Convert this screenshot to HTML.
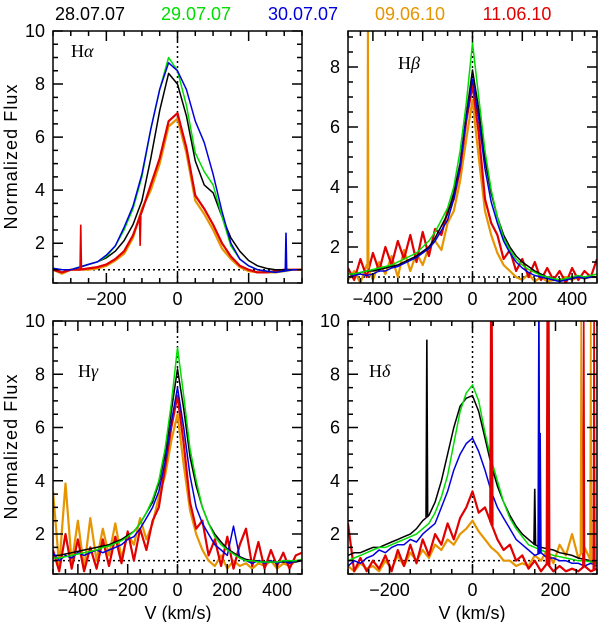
<!DOCTYPE html>
<html><head><meta charset="utf-8"><style>
html,body{margin:0;padding:0;background:#fff;}
svg{display:block;font-family:"Liberation Sans",sans-serif;}
</style></head><body>
<svg id="fig" width="600" height="622" viewBox="0 0 600 622" xmlns="http://www.w3.org/2000/svg">
<g font-size="18" text-anchor="middle">
<text x="90" y="20" fill="#000">28.07.07</text>
<text x="196" y="20" fill="#00dd00">29.07.07</text>
<text x="303" y="20" fill="#0000dd">30.07.07</text>
<text x="410" y="20" fill="#e69500">09.06.10</text>
<text x="517" y="20" fill="#e00000">11.06.10</text>
</g>
<text transform="translate(17,157) rotate(-90)" font-size="18" text-anchor="middle" textLength="145">Normalized Flux</text>
<text transform="translate(17,447) rotate(-90)" font-size="18" text-anchor="middle" textLength="145">Normalized Flux</text>
<text x="178" y="619" font-size="18" text-anchor="middle">V (km/s)</text>
<text x="472" y="619" font-size="18" text-anchor="middle">V (km/s)</text>
</svg>
<script>
// ---- H-alpha data ----
const haV = [-350,-325,-300,-275,-250,-225,-200,-175,-150,-125,-100,-75,-50,-25,0,25,50,75,100,125,150,175,200,225,250,275,300,325,350];
const haBlack = [1.05,1.0,1.0,1.1,1.2,1.3,1.45,1.7,2.1,2.7,3.6,5.2,7.0,8.4,8.0,6.8,5.1,4.2,3.9,3.0,2.2,1.7,1.35,1.15,1.05,1.0,1.0,1.0,1.0];
const haGreen = [1.05,1.0,1.0,1.1,1.2,1.3,1.5,1.9,2.5,3.3,4.5,6.3,7.8,9.0,8.5,7.2,5.4,4.7,4.2,3.0,1.9,1.4,1.15,1.0,0.95,0.9,0.95,1.0,1.0];
const haBlue = [1.05,1.0,1.0,1.1,1.2,1.3,1.55,1.9,2.6,3.4,4.6,6.3,7.8,8.8,8.5,7.8,6.6,5.8,4.6,3.2,2.0,1.4,1.15,1.0,0.95,0.9,0.95,1.0,1.0];
const haRed = [1.0,0.9,1.0,1.0,1.05,1.1,1.2,1.4,1.7,2.3,3.2,4.2,5.2,6.6,6.9,5.6,3.8,3.3,2.7,2.0,1.5,1.15,1.0,0.9,0.9,0.95,1.0,1.0,1.0];
const haOrange = [1.0,0.85,1.0,1.0,1.0,1.05,1.15,1.35,1.6,2.2,3.3,4.0,5.0,6.4,6.7,5.4,3.6,3.1,2.5,1.8,1.4,1.1,0.95,0.9,0.9,0.9,0.95,1.0,1.0];
// ---- H-beta data ----
const hbV = [-500,-475,-450,-425,-400,-375,-350,-325,-300,-275,-250,-225,-200,-175,-150,-125,-100,-75,-50,-25,0,25,50,75,100,125,150,175,200,225,250,275,300,325,350,375,400,425,450,475,500];
const hbBlack = [1.1,1.1,1.15,1.2,1.2,1.25,1.3,1.35,1.4,1.5,1.6,1.7,1.85,2.0,2.3,2.7,3.1,3.8,4.8,6.4,7.9,6.6,4.9,3.8,3.0,2.4,2.0,1.7,1.5,1.35,1.2,1.1,1.0,0.95,0.9,0.9,0.95,1.0,1.0,1.0,1.0];
const hbGreen = [1.1,1.1,1.15,1.2,1.25,1.3,1.35,1.4,1.5,1.6,1.7,1.8,2.0,2.2,2.5,2.9,3.3,4.0,5.2,6.8,8.8,7.0,5.2,3.9,3.0,2.3,1.9,1.6,1.4,1.25,1.15,1.05,1.0,0.95,0.9,0.95,1.0,1.05,1.0,1.05,1.1];
const hbBlue = [1.0,1.05,1.1,1.05,1.1,1.2,1.2,1.3,1.35,1.45,1.55,1.65,1.8,1.95,2.2,2.55,2.9,3.6,4.7,6.3,7.6,6.3,4.6,3.5,2.8,2.2,1.8,1.5,1.3,1.15,1.05,1.0,0.95,0.9,0.85,0.9,0.95,1.0,0.95,1.0,1.0];
const hbRed = [1.3,0.9,1.6,1.0,1.8,1.2,2.0,1.4,2.2,1.6,2.4,1.5,2.5,1.7,2.6,2.4,3.2,3.6,4.6,6.2,7.4,5.8,3.6,2.8,2.4,1.6,1.9,1.2,1.6,1.0,1.5,0.9,1.3,0.9,1.2,0.8,1.3,0.9,1.2,1.0,1.6];
const hbOrange = [0.9,1.2,0.8,1.4,0.9,1.5,1.1,1.7,1.0,1.9,1.2,1.8,1.4,2.0,2.2,1.9,2.8,3.2,4.2,5.6,6.9,5.0,3.2,2.4,1.8,1.4,1.2,1.0,0.9,1.1,0.85,1.0,0.85,0.9,0.9,1.0,0.9,1.0,0.95,1.0,1.0];
// ---- H-gamma data ----
const hgV = hbV;
const hgBlack = [1.2,1.2,1.25,1.3,1.35,1.4,1.45,1.5,1.55,1.6,1.7,1.8,1.95,2.1,2.4,2.8,3.2,3.9,5.0,6.6,8.2,6.7,4.9,3.8,3.0,2.4,2.0,1.7,1.45,1.3,1.15,1.05,1.0,1.0,0.95,0.95,0.95,0.95,0.95,0.95,1.0];
const hgGreen = [1.1,1.1,1.15,1.2,1.25,1.3,1.35,1.4,1.5,1.55,1.65,1.75,1.9,2.1,2.4,2.8,3.3,4.0,5.2,6.9,9.0,7.2,5.2,4.0,3.0,2.4,1.9,1.6,1.4,1.25,1.1,1.0,1.0,0.95,0.95,0.95,0.95,1.0,1.0,1.0,1.05];
const hgBlue = [1.3,1.0,1.2,1.1,1.3,1.2,1.3,1.4,1.3,1.4,1.5,1.6,1.8,1.9,2.2,2.6,3.0,3.6,4.7,6.2,7.5,6.0,4.2,3.0,2.4,2.0,1.6,1.4,1.2,2.3,1.1,1.0,0.9,1.0,0.9,1.0,0.9,1.0,0.9,1.0,1.0];
const hgRed = [1.4,0.6,2.0,0.7,1.8,0.6,1.5,0.7,1.8,0.8,1.9,0.9,2.1,1.0,2.2,1.4,2.5,3.0,4.5,6.0,7.2,5.4,3.2,2.2,2.5,1.2,1.8,0.8,1.9,0.7,1.6,2.2,0.8,1.7,0.7,1.4,0.8,1.3,0.7,1.2,1.3];
const hgOrange = [3.6,0.8,3.9,0.9,2.5,0.7,2.6,1.0,2.2,1.2,2.4,1.1,2.0,1.6,2.6,1.8,2.4,3.4,4.2,5.5,6.5,4.6,2.9,2.0,1.4,1.0,0.8,1.2,0.7,1.0,0.8,0.9,0.7,0.9,0.8,1.0,0.7,0.9,0.8,1.0,1.0];
// ---- H-delta data ----
const hdV = [-300,-285,-270,-255,-240,-225,-210,-195,-180,-165,-150,-135,-120,-105,-90,-75,-60,-45,-30,-15,0,15,30,45,60,75,90,105,120,135,150,165,180,195,210,225,240,255,270,285,300];
const hdBlack = [1.2,1.3,1.3,1.4,1.5,1.5,1.6,1.7,1.8,1.9,2.0,2.2,2.5,2.7,3.2,4.0,5.0,6.0,6.8,7.1,7.2,6.6,5.6,4.6,3.8,3.2,2.7,2.3,2.0,1.8,1.6,1.5,1.45,1.4,1.3,1.25,1.2,1.1,1.05,1.0,1.0];
const hdGreen = [1.0,1.1,1.2,1.3,1.4,1.5,1.5,1.6,1.7,1.8,1.9,2.0,2.2,2.4,2.8,3.4,4.2,5.4,6.6,7.3,7.6,7.0,5.8,4.8,4.0,3.2,2.6,2.2,1.9,1.6,1.5,1.4,1.3,1.2,1.15,1.1,1.05,1.0,1.0,0.95,0.9];
const hdBlue = [0.8,1.0,0.9,1.1,1.2,1.4,1.3,1.5,1.6,1.6,1.8,1.7,2.0,2.2,2.4,3.0,3.6,4.4,5.0,5.4,5.6,5.1,4.4,3.6,3.0,2.6,2.2,1.8,1.6,1.4,1.2,1.3,1.1,1.1,1.0,1.0,0.9,0.9,0.8,0.9,0.8];
const hdRed = [2.4,0.6,1.1,0.6,1.0,0.7,1.2,0.6,1.4,0.8,1.6,0.9,1.8,1.2,2.0,1.6,2.4,1.8,2.6,3.0,3.6,2.8,3.0,2.4,1.8,1.4,1.6,1.0,1.2,0.7,1.0,0.6,0.9,0.6,0.8,0.6,0.7,0.6,0.8,0.6,0.7];
const hdOrange = [0.8,0.6,0.9,0.7,0.8,0.6,1.0,0.7,1.2,0.8,1.3,1.0,1.4,1.1,1.6,1.4,1.8,1.6,2.0,2.2,2.5,2.1,1.8,1.5,1.3,1.0,1.0,0.8,0.9,0.8,1.2,1.0,1.4,0.9,1.6,1.2,2.0,1.1,1.5,1.0,0.9];
// ---- narrow spikes: velocity and peak flux ----
const haRedSpikeV = [-272,-105]; const haRedSpikeF = [2.7,1.9];
const haBlueSpikeV = [305]; const haBlueSpikeF = [2.4];
const hbOrangeSpikeV = [-421,-419]; const hbOrangeSpikeF = [9.5,9.5];
const hdBlackSpikeV = [-110,150]; const hdBlackSpikeF = [9.3,3.7];
const hdRedSpikeV = [44,47,180,184,268,293]; const hdRedSpikeF = [10.5,10.5,10.5,10.5,10.5,10.5];
const hdBlueSpikeV = [160,163]; const hdBlueSpikeF = [10.5,5.8];
const hdOrangeSpikeV = [262,285]; const hdOrangeSpikeF = [10.5,10.5];

const COL = {black:'#000',green:'#00dd00',blue:'#0000dd',orange:'#e69500',red:'#e00000'};
const NS = 'http://www.w3.org/2000/svg';
const svg = document.getElementById('fig');

const panels = [
 {id:'h-alpha', label:'H', greek:'α', lx:71, ly:57, x0:53, x1:302, y0:31, y1:283, xmin:-350, xmax:350, ymin:0.5, ymax:10, xl:[-200,0,200], yl:[2,4,6,8,10], xminor:50,
  v:haV, series:[['orange',haOrange],['red',haRed],['black',haBlack],['green',haGreen],['blue',haBlue]],
  spikes:[['red',haRedSpikeV,haRedSpikeF],['blue',haBlueSpikeV,haBlueSpikeF]]},
 {id:'h-beta', label:'H', greek:'β', lx:398, ly:69, x0:348, x1:597, y0:31, y1:283, xmin:-500, xmax:500, ymin:0.8, ymax:9.2, xl:[-400,-200,0,200,400], yl:[2,4,6,8], xminor:50,
  v:hbV, series:[['orange',hbOrange],['red',hbRed],['black',hbBlack],['green',hbGreen],['blue',hbBlue]],
  spikes:[['orange',hbOrangeSpikeV,hbOrangeSpikeF]]},
 {id:'h-gamma', label:'H', greek:'γ', lx:78, ly:377, x0:53, x1:302, y0:321, y1:574, xmin:-500, xmax:500, ymin:0.5, ymax:10, xl:[-400,-200,0,200,400], yl:[2,4,6,8,10], xminor:50,
  v:hgV, series:[['orange',hgOrange],['red',hgRed],['black',hgBlack],['blue',hgBlue],['green',hgGreen]],
  spikes:[]},
 {id:'h-delta', label:'H', greek:'δ', lx:369, ly:377, x0:348, x1:597, y0:321, y1:574, xmin:-300, xmax:300, ymin:0.5, ymax:10, xl:[-200,0,200], yl:[2,4,6,8,10], xminor:50,
  v:hdV, series:[['orange',hdOrange],['red',hdRed],['black',hdBlack],['blue',hdBlue],['green',hdGreen]],
  spikes:[['black',hdBlackSpikeV,hdBlackSpikeF],['red',hdRedSpikeV,hdRedSpikeF],['blue',hdBlueSpikeV,hdBlueSpikeF],['orange',hdOrangeSpikeV,hdOrangeSpikeF]]}
];

function mk(tag, attrs, parent){const e=document.createElementNS(NS,tag);for(const k in attrs)e.setAttribute(k,attrs[k]);(parent||svg).appendChild(e);return e;}
function interp(vs, fs, v){for(let i=0;i<vs.length-1;i++){if(v>=vs[i]&&v<=vs[i+1]){const t=(v-vs[i])/(vs[i+1]-vs[i]);return fs[i]+t*(fs[i+1]-fs[i]);}}return fs[fs.length-1];}

panels.forEach(p=>{
  const sx=v=>p.x0+(v-p.xmin)/(p.xmax-p.xmin)*(p.x1-p.x0);
  const sy=f=>p.y1-(f-p.ymin)/(p.ymax-p.ymin)*(p.y1-p.y0);
  const g=mk('g',{});
  
  
  const cp=mk('clipPath',{id:'clip-'+p.id},g);
  mk('rect',{x:p.x0,y:p.y0,width:p.x1-p.x0,height:p.y1-p.y0},cp);
  const plot=mk('g',{'clip-path':'url(#clip-'+p.id+')'},g);
  const hz=mk('line',{x1:p.x0,x2:p.x1,y1:sy(1),y2:sy(1),stroke:'#000','stroke-width':1.5,'stroke-dasharray':'2,3'},plot);
  
  
  const vz=mk('line',{x1:sx(0),x2:sx(0),y1:p.y0,y2:p.y1,stroke:'#000','stroke-width':1.5,'stroke-dasharray':'2,3'},plot);
  
  
  p.series.forEach(([c,f])=>{
    const d=p.v.map((v,i)=>(i?'L':'M')+sx(v).toFixed(1)+','+sy(f[i]).toFixed(1)).join('');
    const noisy=(c==='red'||c==='orange');
    const path=mk('path',{d:d,fill:'none',stroke:COL[c],'stroke-width':noisy?2.2:1.5,'stroke-linejoin':'round'},plot);
    
    
  });
  p.spikes.forEach(([c,vs,fs])=>{
    const base=p.series.find(s=>s[0]===c)[1];
    vs.forEach((v,i)=>{
      const b=interp(p.v,base,v);
      const ln=mk('path',{d:'M'+sx(v-2)+','+sy(b)+'L'+sx(v)+','+sy(fs[i])+'L'+sx(v+2)+','+sy(b),fill:'none',stroke:COL[c],'stroke-width':1.6},plot);
      
      
    });
  });
  const fr=mk('rect',{x:p.x0,y:p.y0,width:p.x1-p.x0,height:p.y1-p.y0,fill:'none',stroke:'#000','stroke-width':1.5},g);
  
  
  let tk='';
  const startX=Math.ceil(p.xmin/p.xminor)*p.xminor;
  for(let v=startX; v<=p.xmax; v+=p.xminor){
    const major=p.xl.includes(v); const L=major?10:5; const x=sx(v);
    tk+='M'+x+','+p.y1+'v'+(-L)+'M'+x+','+p.y0+'v'+L;
  }
  const startY=Math.ceil(p.ymin/0.5)*0.5;
  for(let f=startY; f<=p.ymax+1e-6; f+=0.5){
    const major=Math.abs(f/2-Math.round(f/2))<1e-6; const L=major?10:5; const y=sy(f);
    tk+='M'+p.x0+','+y+'h'+L+'M'+p.x1+','+y+'h'+(-L);
  }
  const ticks=mk('path',{d:tk,stroke:'#000','stroke-width':1.5,fill:'none'},g);
  
  
  p.xl.forEach(v=>{
    const t=mk('text',{x:sx(v),y:p.y1+22,'font-size':18,'text-anchor':'middle'},g);
    t.textContent=(v<0?'\u2212':'')+Math.abs(v);
    
    
  });
  p.yl.forEach(f=>{
    const t=mk('text',{x:p.x0-8,y:sy(f)+6,'font-size':18,'text-anchor':'end'},g);
    t.textContent=f;
    
    
  });
  const lb=mk('text',{x:p.lx,y:p.ly,'font-size':18,'font-family':'Liberation Serif, serif'},g);
  lb.textContent=p.label;
  const ts=mk('tspan',{'font-style':'italic'},lb); ts.textContent=p.greek;
  
  
});
</script>
</body></html>
